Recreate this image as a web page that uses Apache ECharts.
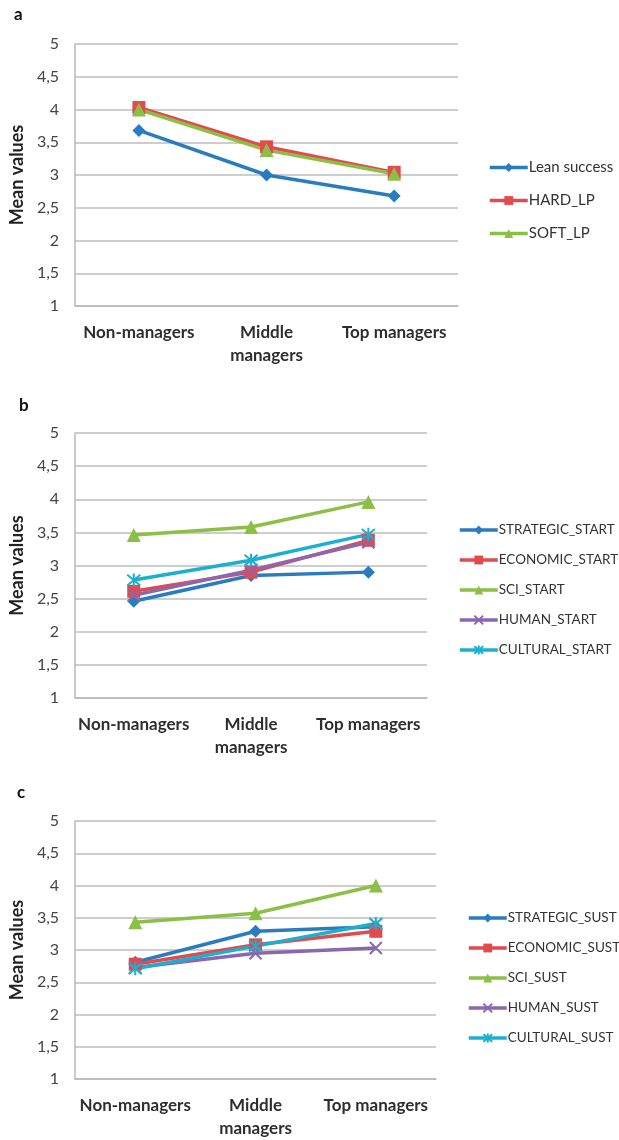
<!DOCTYPE html>
<html>
<head>
<meta charset="utf-8">
<script src="https://cdn.jsdelivr.net/npm/echarts@6/dist/echarts.min.js"></script>
<style>
  html, body { margin: 0; padding: 0; background: #ffffff; }
  #chart { width: 619px; height: 1140px; }
</style>
</head>
<body>
<div id="chart"></div>
<script>
// Shared categories and y-axis ticks
const categories = ['Non-managers', 'Middle\nmanagers', 'Top managers'];
const yTicks = [1, 1.5, 2, 2.5, 3, 3.5, 4, 4.5, 5];

// Panel a: lean success vs. hard/soft lean practices
const namesA = ['Lean success', 'HARD_LP', 'SOFT_LP'];
const leanSuccess = [3.68, 3.00, 2.68];
const hardLP = [4.03, 3.43, 3.04];
const softLP = [4.00, 3.38, 3.02];

// Panel b: start-phase dimensions
const namesB = ['STRATEGIC_START', 'ECONOMIC_START', 'SCI_START', 'HUMAN_START', 'CULTURAL_START'];
const strategicStart = [2.46, 2.85, 2.90];
const economicStart = [2.61, 2.90, 3.38];
const sciStart = [3.46, 3.58, 3.96];
const humanStart = [2.55, 2.93, 3.35];
const culturalStart = [2.78, 3.08, 3.47];

// Panel c: sustain-phase dimensions
const namesC = ['STRATEGIC_SUST', 'ECONOMIC_SUST', 'SCI_SUST', 'HUMAN_SUST', 'CULTURAL_SUST'];
const strategicSust = [2.81, 3.29, 3.36];
const economicSust = [2.78, 3.08, 3.29];
const sciSust = [3.43, 3.57, 4.00];
const humanSust = [2.73, 2.95, 3.03];
const culturalSust = [2.71, 3.06, 3.41];

const FONT = 'Lato, "Open Sans", sans-serif';
const BLUE = '#2a7cc0', RED = '#e24a4d', GREEN = '#8bbf45', PURPLE = '#8b67b0', CYAN = '#1cb0cf';

const markers = [
  { symbol: 'diamond', size: 13 },
  { symbol: 'rect', size: 13 },
  { symbol: 'triangle', size: 14 },
  { symbol: 'path://M0,0L10,10M10,0L0,10', size: 12, stroke: true },
  { symbol: 'path://M0,0L10,10M10,0L0,10M5,-1L5,11', size: 13, stroke: true }
];
const colorsB = [BLUE, RED, GREEN, PURPLE, CYAN];

const grids = [
  { left: 73, top: 44, width: 385, height: 262 },
  { left: 72, top: 433, width: 355, height: 265 },
  { left: 72, top: 821, width: 364, height: 265 }
];

function makeSeries(names, values, colors, idx) {
  return names.map((n, i) => {
    const m = markers[i];
    return {
      name: n,
      type: 'line',
      xAxisIndex: idx,
      yAxisIndex: idx,
      data: values[i],
      symbol: m.symbol,
      symbolSize: m.size,
      showSymbol: true,
      lineStyle: { color: colors[i], width: 3.5 },
      itemStyle: m.stroke
        ? { color: colors[i], borderColor: colors[i], borderWidth: 2 }
        : { color: colors[i], borderWidth: 0 },
      emphasis: { disabled: true },
      animation: false
    };
  });
}

const xAxes = grids.map((g, i) => ({
  type: 'category',
  gridIndex: i,
  data: categories,
  boundaryGap: true,
  axisLine: { show: true, lineStyle: { color: '#b8b8b8', width: 1.5 } },
  axisTick: { show: false },
  axisLabel: {
    interval: 0,
    margin: 15,
    fontFamily: FONT,
    fontWeight: 'bold',
    fontSize: 17,
    lineHeight: 23,
    color: '#2e2e2e'
  }
}));

const yAxes = grids.map((g, i) => ({
  type: 'value',
  gridIndex: i,
  min: 1,
  max: 5,
  interval: 0.5,
  name: 'Mean values',
  nameLocation: 'middle',
  nameGap: 45,
  nameTextStyle: { fontFamily: FONT, fontWeight: 'bold', fontSize: 18, color: '#222222' },
  axisLine: { show: true, lineStyle: { color: '#b8b8b8', width: 1.5 } },
  axisTick: { show: false },
  splitLine: { show: true, lineStyle: { color: '#bdbdbd', width: 1.5 } },
  axisLabel: {
    margin: 16,
    fontFamily: FONT,
    fontSize: 16,
    color: '#444444',
    customValues: yTicks,
    formatter: v => String(v).replace('.', ',')
  }
}));

function legend(names, left, top, gap, size) {
  return {
    data: names,
    orient: 'vertical',
    left: left,
    top: top,
    itemWidth: 38,
    itemHeight: 11,
    itemGap: gap,
    selectedMode: false,
    lineStyle: { width: 3.5 },
    textStyle: { fontFamily: FONT, fontSize: size, color: '#333333', padding: [0, 0, 0, -4] }
  };
}

const option = {
  backgroundColor: '#ffffff',
  animation: false,
  grid: grids,
  xAxis: xAxes,
  yAxis: yAxes,
  legend: [
    legend(namesA, 483, 155, 18, 15),
    legend(namesB, 453, 518, 16, 13.5),
    legend(namesC, 462, 906, 16, 13.5)
  ],
  graphic: [
    { type: 'text', left: 14, top: 6, style: { text: 'a', font: 'bold 17px ' + FONT, fill: '#111' } },
    { type: 'text', left: 19, top: 397, style: { text: 'b', font: 'bold 17px ' + FONT, fill: '#111' } },
    { type: 'text', left: 17, top: 784, style: { text: 'c', font: 'bold 17px ' + FONT, fill: '#111' } }
  ],
  series: [
    ...makeSeries(namesA, [leanSuccess, hardLP, softLP], [BLUE, RED, GREEN], 0),
    ...makeSeries(namesB, [strategicStart, economicStart, sciStart, humanStart, culturalStart], colorsB, 1),
    ...makeSeries(namesC, [strategicSust, economicSust, sciSust, humanSust, culturalSust], colorsB, 2)
  ]
};

const chart = echarts.init(document.getElementById('chart'), null, { renderer: 'canvas' });
chart.setOption(option);
</script>
</body>
</html>
